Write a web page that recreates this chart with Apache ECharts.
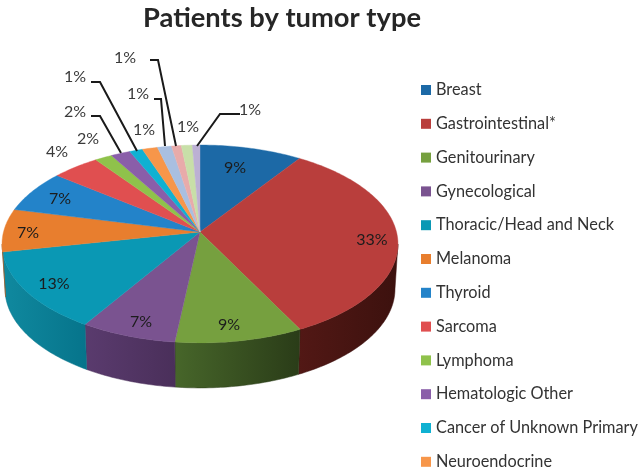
<!DOCTYPE html>
<html>
<head>
<meta charset="utf-8">
<style>html,body{margin:0;padding:0;background:#fff}#c{width:640px;height:470px}</style>
<script src="https://cdn.jsdelivr.net/npm/echarts@6/dist/echarts.min.js"></script>
</head>
<body>
<div id="c"></div>
<script>
var categories = ['Breast','Gastrointestinal*','Genitourinary','Gynecological','Thoracic/Head and Neck','Melanoma','Thyroid','Sarcoma','Lymphoma','Hematologic Other','Cancer of Unknown Primary','Neuroendocrine','Other A','Other B','Other C','Other D'];
var legendNames = categories.slice(0, 12);
var values = [9.4,33.1,9.3,7.0,13.0,7.0,6.9,4.4,1.6,1.8,1.2,1.4,1.3,0.9,1.0,0.7];
var labels = ['9%','33%','9%','7%','13%','7%','7%','4%','2%','2%','1%','1%','1%','1%','1%','1%'];
var topColors = ['#1c69a6','#b93e3c','#76a03f','#7a5390','#0a98b4','#e87e2e','#2383c9','#e04f50','#8fc24b','#8a5ea9','#10b1d2','#f7964a','#a9bfe0','#e8abaa','#c8dfa8','#bcb0d4'];
var sideLeft = ['#114a75','#521815','#47662a','#5a3b6e','#10899f','#a85a20','#195d8f','#a03838','#65892f','#624378','#0b7f96','#b06b34','#7888a0','#a57a79','#8e9f77','#867d97'];
var sideRight = ['#114a75','#3c110e','#2a3c18','#4a2f5a','#06748b','#a85a20','#195d8f','#a03838','#65892f','#624378','#0b7f96','#b06b34','#7888a0','#a57a79','#8e9f77','#867d97'];
var labelSpots = [[235,168],[372,240],[229,325],[141,322],[54,284],[28,233],[60,199],[57,152],[88,139],[75,112],[75,77],[144,130],[138,94],[125,58],[188,127],[250,110]];
var leaders = {9:[[121,153],[100,116],[91,116]],10:[[137,151],[100,82],[91,82]],12:[[165,146],[161,99],[154,99]],13:[[176,146],[158,60],[150,60]],15:[[197,146],[220,114],[240,114]]};

var HUB_X = 200, HUB_Y = 232, SX = 196.5, CY = 97.5, K = 0.121, DEPTH = 45;
var SIDE_FROM = 97, SIDE_TO = 263;
var total = values.reduce(function (a, b) { return a + b; }, 0);

function rim(deg, drop) {
  var r = deg * Math.PI / 180, v = Math.cos(r), u = Math.sin(r), w = 1 + K * v;
  var shrink = drop ? 0.985 : 1;
  return [HUB_X + SX * shrink * u / w, HUB_Y - CY * v / w + (drop ? DEPTH : 0)];
}
function arc(a, b, drop) {
  var pts = [], n = Math.max(2, Math.ceil(b - a));
  for (var i = 0; i <= n; i++) pts.push(rim(a + (b - a) * i / n, drop));
  return pts;
}
function renderSlice(params, api) {
  var i = params.seriesIndex, a = api.value(0) * 3.6, b = api.value(1) * 3.6;
  var kids = [];
  var s = Math.max(a, SIDE_FROM), e = Math.min(b, SIDE_TO);
  if (e > s) {
    kids.push({
      type: 'polygon',
      shape: { points: arc(s, e, false).concat(arc(s, e, true).reverse()) },
      style: { fill: new echarts.graphic.LinearGradient(0, 0, 1, 0, [{ offset: 0, color: sideLeft[i] }, { offset: 1, color: sideRight[i] }]), stroke: sideRight[i], lineWidth: 0.5 }
    });
  }
  kids.push({
    type: 'polygon',
    shape: { points: [[HUB_X, HUB_Y]].concat(arc(a, b, false)) },
    style: { fill: topColors[i], stroke: topColors[i], lineWidth: 0.4 }
  });
  if (leaders[i]) {
    kids.push({ type: 'polyline', z2: 20, shape: { points: leaders[i] }, style: { fill: 'none', stroke: '#1a1a1a', lineWidth: 2 } });
  }
  kids.push({
    type: 'text', z2: 30,
    style: { x: labelSpots[i][0], y: labelSpots[i][1], text: labels[i], align: 'center', verticalAlign: 'middle', font: '16px Lato', fill: i < 7 ? '#1c1c1c' : '#3a3a3a' }
  });
  return { type: 'group', children: kids };
}

var cumulative = 0;
var series = categories.map(function (name, i) {
  var start = cumulative / total * 100;
  cumulative += values[i];
  return {
    type: 'custom', name: name, coordinateSystem: 'none', renderItem: renderSlice,
    itemStyle: { color: topColors[i] }, silent: true, animation: false,
    data: [[start, cumulative / total * 100]]
  };
});

var chart = echarts.init(document.getElementById('c'), null, { renderer: 'canvas' });
chart.setOption({
  animation: false,
  backgroundColor: '#ffffff',
  title: {
    text: 'Patients by tumor type', left: 277, top: 0, textAlign: 'center',
    textStyle: { fontFamily: 'Lato', fontWeight: 'bold', fontSize: 27.3, color: '#262626' }
  },
  legend: {
    data: legendNames, orient: 'vertical', left: 421, top: 82, padding: 0,
    icon: 'rect', itemWidth: 10, itemHeight: 10, itemGap: 17.8,
    selectedMode: false,
    textStyle: { fontFamily: 'Lato', fontSize: 16.3, color: '#333333', lineHeight: 14, padding: [0, 0, 0, 0] }
  },
  series: series
});
</script>
</body>
</html>
